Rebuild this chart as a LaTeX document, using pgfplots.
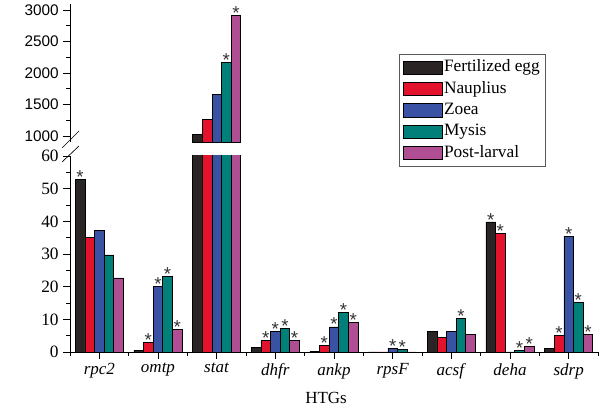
\documentclass[border=0pt]{standalone}
\usepackage{pgfplots}
\pgfplotsset{compat=1.18}
\usepackage{fontspec}
\setmainfont{Liberation Serif}
\newfontfamily\arialf{Liberation Sans}
\newfontfamily\timesf{Liberation Serif}
\definecolor{cblack}{RGB}{43,36,37}
\definecolor{cred}{RGB}{227,19,46}
\definecolor{cblue}{RGB}{57,82,163}
\definecolor{cteal}{RGB}{0,128,120}
\definecolor{cpink}{RGB}{176,78,148}
\begin{document}
\begin{tikzpicture}
\pgfplotsset{
  common/.style={
    scale only axis, width=396pt,
    xmin=-0.5, xmax=8.5,
    ybar=0pt, bar width=0.164,
    axis line style={line width=0.6pt},
    every tick/.style={black, line width=0.6pt},
    tick align=outside,
    major tick length=5pt, minor tick length=3pt,
    /pgf/number format/assume math mode=true,
    /pgf/number format/1000 sep={},
    every axis plot/.append style={draw=black, line width=0.5pt},
    nodes near coords, point meta=explicit symbolic,
    every node near coord/.append style={font=\arialf\fontsize{14}{14}\selectfont, inner sep=0.5pt, yshift=-3.8pt, text=black!80},
  },
}
\begin{axis}[common,
  at={(0pt,0pt)}, anchor=south west,
  height=147pt,
  ymin=0, ymax=60,
  axis x line*=bottom, axis y line*=left,
  ytick={0,10,...,60}, minor ytick={5,15,...,55},
  xtick={0,...,8},
  minor xtick={-0.5,0.5,...,8.5},
  xticklabels={\textit{rpc2},\textit{omtp},\textit{stat},\textit{dhfr},\textit{ankp},\textit{rpsF},\textit{acsf},\textit{deha},\textit{sdrp}},
  xticklabel style={font=\timesf\fontsize{12.75}{14}\selectfont},
  yticklabel style={font=\timesf\fontsize{13}{14}\selectfont},
  xlabel={HTGs},
  xlabel style={font=\timesf\fontsize{12.75}{14}\selectfont, at={(axis description cs:0.485,-0.235)}, anchor=center},
  legend cell align=left,
  legend image code/.code={\draw[#1, draw=black, line width=0.5pt] (0pt,-5pt) rectangle (29pt,5pt);},
  legend style={at={(axis description cs:0.623,1.52)}, anchor=north west, draw=gray!70!black, line width=0.6pt,
    font=\timesf\fontsize{13}{14}\selectfont, row sep=2pt, inner sep=3pt,
    nodes={inner sep=1pt, text height=9pt, text depth=3pt}},
]
\addplot[fill=cblack] coordinates {(0,52.8)[*] (1,0.6)[{}] (2,1030)[{}] (3,1.3)[{}] (4,0.3)[{}] (5,0)[{}] (6,6.4)[{}] (7,39.8)[*] (8,1.0)[{}]};
\addplot[fill=cred] coordinates {(0,35.0)[{}] (1,2.85)[*] (2,1265)[{}] (3,3.5)[*] (4,2.0)[*] (5,0)[{}] (6,4.5)[{}] (7,36.3)[*] (8,5.1)[*]};
\addplot[fill=cblue] coordinates {(0,37.1)[{}] (1,20.0)[*] (2,1660)[{}] (3,6.2)[*] (4,7.7)[*] (5,1.2)[*] (6,6.2)[{}] (7,0)[{}] (8,35.5)[*]};
\addplot[fill=cteal] coordinates {(0,29.7)[{}] (1,23.2)[*] (2,2165)[{}] (3,7.2)[*] (4,12.0)[*] (5,0.7)[*] (6,10.2)[*] (7,0.5)[*] (8,15.2)[*]};
\addplot[fill=cpink] coordinates {(0,22.7)[{}] (1,7.0)[*] (2,2920)[{}] (3,3.5)[*] (4,9.0)[*] (5,0)[{}] (6,5.3)[{}] (7,1.6)[*] (8,5.3)[*]};
\legend{{\timesf Fertilized egg},{\timesf Nauplius},{\timesf Zoea},{\timesf Mysis},{\timesf Post-larval}}
\node[rotate=90, font=\timesf\fontsize{12.75}{14}\selectfont] at (axis description cs:-0.12,1.056) {FPKM};
\end{axis}
\begin{axis}[common,
  at={(0pt,157.3pt)}, anchor=south west,
  height=103.9pt,
  ymin=900, ymax=3100,
  hide x axis, axis y line*=left,
  ytick={1000,1500,...,3000}, minor ytick={1250,1750,...,2750},
  yticklabel style={font=\arialf\fontsize{11.5}{13}\selectfont},
]
\addplot[fill=cblack] coordinates {(2,1030)[{}]};
\addplot[fill=cred] coordinates {(2,1265)[{}]};
\addplot[fill=cblue] coordinates {(2,1660)[{}]};
\addplot[fill=cteal] coordinates {(2,2165)[*]};
\addplot[fill=cpink] coordinates {(2,2920)[*]};
\end{axis}
\draw[line width=0.5pt] (-6pt,153pt) -- (6.75pt,165.75pt);
\draw[line width=0.5pt] (-6pt,142.5pt) -- (6.75pt,154.5pt);
\pgfresetboundingbox
\useasboundingbox (-52.5pt,-42.75pt) rectangle (397.5pt,264pt);
\end{tikzpicture}
\end{document}
